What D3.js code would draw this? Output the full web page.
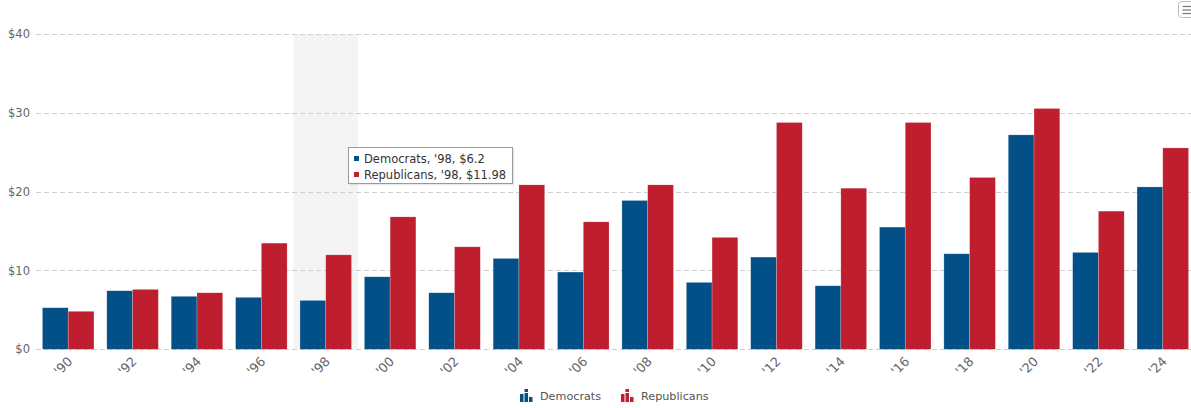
<!DOCTYPE html>
<html>
<head>
<meta charset="utf-8">
<script src="https://cdn.jsdelivr.net/npm/d3@7"></script>
<style>
  html, body { margin: 0; padding: 0; background: #fff; }
  svg { display: block; font-family: "DejaVu Sans", Verdana, sans-serif; }
</style>
</head>
<body>
<svg id="chart" width="1191" height="408"></svg>
<script>
// Election cycles (two-digit year labels)
const cycles = ["'90","'92","'94","'96","'98","'00","'02","'04","'06","'08","'10","'12","'14","'16","'18","'20","'22","'24"];
// Amounts in dollars per cycle
const democrats   = [5.27, 7.43, 6.72, 6.59, 6.2, 9.2, 7.17, 11.53, 9.8, 18.88, 8.49, 11.7, 8.06, 15.5, 12.12, 27.2, 12.29, 20.6];
const republicans = [4.82, 7.6, 7.17, 13.47, 11.98, 16.8, 13.0, 20.86, 16.17, 20.86, 14.2, 28.77, 20.44, 28.77, 21.8, 30.55, 17.53, 25.55];
const seriesNames = ["Democrats", "Republicans"];
const yTicks = [0, 10, 20, 30, 40];
const hoveredCycle = "'98";

const colors = { Democrats: "#034f88", Republicans: "#be1e2e" };
const svg = d3.select("#chart");

const plot = { left: 36, right: 1195, top: 34, bottom: 349.3 };

const x = d3.scaleBand().domain(cycles).range([plot.left, plot.right]).padding(0);
const xInner = d3.scaleBand().domain(seriesNames).range([0, x.bandwidth()])
  .paddingInner(0).paddingOuter(0.25);
const y = d3.scaleLinear().domain([0, 40]).range([plot.bottom, plot.top]);

const rows = cycles.map((c, i) => ({ cycle: c, Democrats: democrats[i], Republicans: republicans[i] }));

// hover highlight column
svg.append("rect")
  .attr("x", x(hoveredCycle)).attr("y", plot.top)
  .attr("width", x.bandwidth()).attr("height", plot.bottom - plot.top)
  .attr("fill", "#f4f4f4");

// gridlines + y labels
const yAxis = svg.append("g");
yTicks.forEach(t => {
  yAxis.append("line")
    .attr("x1", plot.left).attr("x2", 1191)
    .attr("y1", Math.round(y(t)) + 0.5).attr("y2", Math.round(y(t)) + 0.5)
    .attr("stroke", "#cfcfcf").attr("stroke-width", 1)
    .attr("stroke-dasharray", "5,3");
  yAxis.append("text")
    .attr("x", 30).attr("y", y(t))
    .attr("dy", "0.35em")
    .attr("text-anchor", "end")
    .attr("font-size", 11.5).attr("fill", "#666")
    .text("$" + t);
});

// bars
const groups = svg.append("g").selectAll("g")
  .data(rows).join("g")
  .attr("transform", d => `translate(${x(d.cycle)},0)`);

groups.selectAll("rect")
  .data(d => seriesNames.map(s => ({ s, v: d[s] })))
  .join("rect")
  .attr("x", d => xInner(d.s))
  .attr("y", d => y(d.v))
  .attr("width", xInner.bandwidth())
  .attr("height", d => y(0) - y(d.v))
  .attr("fill", d => colors[d.s])
  .attr("stroke", "rgba(255,255,255,0.35)")
  .attr("stroke-width", 0.6);

// x labels, rotated
svg.append("g").selectAll("text")
  .data(cycles).join("text")
  .attr("transform", d => `translate(${x(d) + x.bandwidth() / 2 + 5},${plot.bottom + 13}) rotate(-45)`)
  .attr("text-anchor", "end")
  .attr("font-size", 12.8).attr("fill", "#666")
  .text(d => d);

// tooltip for the hovered cycle
const hi = cycles.indexOf(hoveredCycle);
const tip = svg.append("g").attr("transform", "translate(348,147)");
tip.append("rect")
  .attr("x", 1.5).attr("y", 1.5).attr("width", 165).attr("height", 37)
  .attr("fill", "rgba(0,0,0,0.08)");
tip.append("rect")
  .attr("x", 0.5).attr("y", 0.5).attr("width", 164).attr("height", 36)
  .attr("fill", "#fff").attr("stroke", "#999").attr("stroke-width", 1);
const tipLines = [
  { s: "Democrats", v: democrats[hi] },
  { s: "Republicans", v: republicans[hi] }
];
tipLines.forEach((l, i) => {
  tip.append("rect")
    .attr("x", 6).attr("y", 9 + i * 16)
    .attr("width", 5).attr("height", 5)
    .attr("fill", colors[l.s]);
  tip.append("text")
    .attr("x", 16).attr("y", 15.5 + i * 16)
    .attr("font-size", 11.5).attr("fill", "#333")
    .text(`${l.s}, ${hoveredCycle}, $${l.v}`);
});

// legend
const legend = svg.append("g").attr("transform", "translate(520,389)");
const legendItems = [
  { s: "Democrats", x: 0 },
  { s: "Republicans", x: 101 }
];
legendItems.forEach(it => {
  const g = legend.append("g").attr("transform", `translate(${it.x},0)`);
  // small bar-chart glyph
  [[0, 8], [4.5, 9], [9, 5]].forEach(([bx, bh]) => {
    g.append("rect")
      .attr("x", bx).attr("y", 13 - bh)
      .attr("width", 3.5).attr("height", bh)
      .attr("fill", colors[it.s]);
  });
  g.append("rect").attr("x", 4.5).attr("y", 0).attr("width", 3.5).attr("height", 3).attr("fill", colors[it.s]);
  g.append("text")
    .attr("x", 20).attr("y", 11)
    .attr("font-size", 11.2).attr("fill", "#555")
    .text(it.s);
});

// menu button
const menu = svg.append("g").attr("transform", "translate(1178.5,1.5)");
menu.append("rect")
  .attr("width", 16).attr("height", 16).attr("rx", 3)
  .attr("fill", "#fff").attr("stroke", "#bbb");
[5, 8.5, 12].forEach(yy => {
  menu.append("line")
    .attr("x1", 4).attr("x2", 13).attr("y1", yy).attr("y2", yy)
    .attr("stroke", "#777").attr("stroke-width", 1.2);
});
</script>
</body>
</html>
